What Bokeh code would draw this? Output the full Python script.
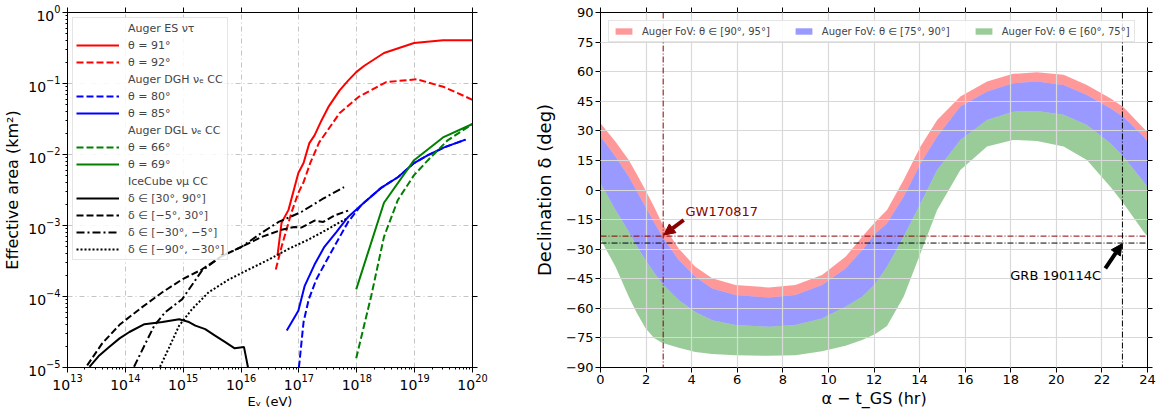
import numpy as np
from bokeh.plotting import figure
from bokeh.layouts import row
from bokeh.models import (Legend, LegendItem, LogAxis, LinearAxis, Span, Arrow,
                          NormalHead, Label, FixedTicker)
from bokeh.embed import file_html
from bokeh.resources import INLINE

FONT = "DejaVu Sans"

# ---------------- Left panel data (log10 E [eV], log10 A [km^2]) ----------------
es91_logE = [16.63, 16.70, 16.82, 16.99, 17.08, 17.18, 17.27, 17.39, 17.51, 17.70, 17.85, 17.99, 18.13, 18.47, 18.99, 19.49, 20.0]
es91_logA = [-3.42, -2.96, -2.78, -2.26, -2.12, -1.84, -1.73, -1.52, -1.33, -1.10, -0.96, -0.84, -0.75, -0.57, -0.43, -0.39, -0.39]
es92_logE = [16.60, 16.70, 16.87, 16.99, 17.08, 17.20, 17.35, 17.53, 17.70, 18.03, 18.51, 19.04, 19.51, 20.0]
es92_logA = [-3.62, -3.30, -2.82, -2.54, -2.39, -2.11, -1.83, -1.62, -1.42, -1.19, -0.98, -0.94, -1.05, -1.23]

dgh80_logE = [17.00, 17.08, 17.17, 17.30, 17.44, 17.65, 17.85, 18.08, 18.42, 18.71, 18.99, 19.23, 19.51, 19.88]
dgh80_logA = [-5.00, -4.36, -4.04, -3.76, -3.55, -3.24, -2.95, -2.71, -2.47, -2.32, -2.12, -2.01, -1.90, -1.79]
dgh85_logE = [16.79, 16.99, 17.10, 17.27, 17.44, 17.65, 17.85, 18.08, 18.42, 18.71, 18.99, 19.23, 19.51, 19.88]
dgh85_logA = [-4.48, -4.20, -3.85, -3.55, -3.30, -3.09, -2.88, -2.71, -2.47, -2.32, -2.12, -2.01, -1.90, -1.79]

dgl66_logE = [17.99, 18.25, 18.47, 18.71, 18.99, 19.23, 19.57, 20.0]
dgl66_logA = [-4.87, -3.99, -3.16, -2.64, -2.29, -2.08, -1.80, -1.57]
dgl69_logE = [17.99, 18.47, 18.99, 19.49, 20.0]
dgl69_logA = [-3.90, -2.68, -2.08, -1.76, -1.57]

ic_north_logE = [13.38, 13.55, 13.72, 13.90, 14.07, 14.33, 14.64, 14.93, 15.10, 15.21, 15.38, 15.55, 15.72, 15.89, 16.05, 16.12]
ic_north_logA = [-4.99, -4.83, -4.71, -4.59, -4.50, -4.39, -4.36, -4.32, -4.36, -4.41, -4.46, -4.55, -4.64, -4.73, -4.71, -5.0]
ic_horiz_logE = [13.34, 13.60, 13.91, 14.29, 14.64, 14.98, 15.32, 15.67, 16.01, 16.36, 16.70, 16.92, 17.04, 17.27, 17.42, 17.61, 17.85]
ic_horiz_logA = [-4.97, -4.66, -4.39, -4.15, -3.94, -3.76, -3.62, -3.43, -3.30, -3.16, -3.06, -3.02, -3.03, -2.93, -2.95, -2.86, -2.79]
ic_south1_logE = [14.15, 14.33, 14.50, 14.69, 14.98, 15.32, 15.67, 16.01, 16.36, 16.65, 17.04, 17.40, 17.78]
ic_south1_logA = [-4.99, -4.69, -4.41, -4.22, -4.04, -3.64, -3.43, -3.30, -3.10, -2.95, -2.81, -2.63, -2.46]
ic_south2_logE = [14.60, 14.75, 14.93, 15.15, 15.44, 15.79, 16.13, 16.48, 16.82, 17.16, 17.39, 17.85]
ic_south2_logA = [-4.99, -4.73, -4.41, -4.18, -3.94, -3.76, -3.62, -3.48, -3.33, -3.20, -3.10, -2.89]

# ---------------- Right panel data ----------------
hours = [0.0, 0.66, 1.24, 1.6, 1.97, 2.35, 2.7, 3.43, 4.16, 4.9, 5.92, 7.38, 8.55, 9.72, 10.75, 11.48,
         12.06, 12.57, 13.3, 14.04, 14.77, 15.79, 16.96, 18.1, 19.15, 20.32, 21.34, 22.37, 22.95, 23.83, 24.0]
dec_theta95 = [33.9, 24.5, 15.2, 7.8, 0.0, -8.5, -16.9, -29.6, -38.9, -44.8, -48.2, -49.4, -48.2, -43.1, -33.9, -23.7,
               -16.1, -10.2, 5.1, 22.0, 35.5, 47.4, 55.0, 58.9, 59.7, 58.4, 53.3, 46.5, 42.0, 31.3, 29.5]
dec_theta90 = [27.1, 16.9, 6.8, -0.7, -8.5, -16.3, -23.5, -35.5, -44.0, -49.9, -53.3, -54.5, -53.3, -48.2, -39.8, -30.5,
               -22.0, -16.9, -3.4, 13.5, 27.1, 42.3, 49.9, 54.1, 55.0, 53.3, 48.2, 41.5, 37.0, 27.1, 24.5]
dec_theta75 = [3.4, -10.2, -21.2, -28.5, -35.5, -41.8, -47.4, -55.8, -61.8, -66.0, -68.5, -69.4, -68.5, -65.1, -59.2, -54.1,
               -47.5, -38.9, -23.7, -6.8, 10.2, 25.4, 35.5, 39.7, 40.1, 38.1, 33.0, 23.7, 16.9, 4.2, 1.5]
dec_theta60 = [-25.0, -38.9, -54.1, -62.5, -70.0, -75.0, -77.5, -80.0, -82.1, -83.2, -83.8, -84.1, -83.8, -81.8, -79.0, -76.1,
               -73.0, -69.0, -54.1, -32.1, -10.2, 10.2, 22.0, 25.4, 24.9, 22.0, 15.2, 1.7, -6.8, -21.2, -23.5]

gw_hour, gw_dec = 2.75, -23.38
grb_hour, grb_dec = 22.9, -26.9

x_ticks_hr = list(range(0, 25, 2))
y_ticks_dec = list(range(-90, 91, 15))


def style_axis(ax, tick_font, label_font, hidden=False):
    ax.axis_line_color = "black"
    ax.major_tick_line_color = "black"
    ax.minor_tick_line_color = "black"
    ax.major_tick_out = 5
    ax.major_tick_in = 0
    ax.minor_tick_out = 2
    ax.minor_tick_in = 0
    ax.major_label_text_font = FONT
    ax.major_label_text_font_size = tick_font
    ax.major_label_text_color = "black"
    ax.axis_label_text_font = FONT
    ax.axis_label_text_font_size = label_font
    ax.axis_label_text_font_style = "normal"
    ax.axis_label_text_color = "black"
    ax.major_label_standoff = 2
    ax.axis_label_standoff = 3
    if hidden:
        ax.major_label_text_alpha = 0
        ax.major_label_standoff = 0
        ax.minor_tick_out = 0


# ================= Left figure =================
p1 = figure(width=525, height=412, x_axis_type="log", y_axis_type="log",
            x_range=(1e13, 1e20), y_range=(1e-5, 1.0),
            output_backend="svg", toolbar_location=None,
            min_border_left=65, min_border_right=53, min_border_top=11, min_border_bottom=43)
p1.outline_line_color = "black"
p1.xaxis.axis_label = "Eᵥ (eV)"
p1.yaxis.axis_label = "Effective area (km²)"
style_axis(p1.xaxis[0], "14px", "13px")
style_axis(p1.yaxis[0], "14px", "16px")
p1.xaxis.major_label_standoff = 1
p1.xaxis.axis_label_standoff = 1
for loc in ("above", "right"):
    ax = LogAxis()
    style_axis(ax, "1px", "1px", hidden=True)
    p1.add_layout(ax, loc)
for g in (p1.xgrid[0], p1.ygrid[0]):
    g.grid_line_color = "#c4c4c4"
    g.grid_line_dash = "5 3 1 3"
    g.grid_line_width = 1


def L(vals):
    return 10 ** np.array(vals, dtype=float)


def hdr():
    return p1.line(x=[1e13, 1e13], y=[1e-5, 1e-5], line_alpha=0)


LW = 2
h1 = hdr()
r91 = p1.line(L(es91_logE), L(es91_logA), line_color="red", line_width=LW)
r92 = p1.line(L(es92_logE), L(es92_logA), line_color="red", line_width=LW, line_dash="7 3")
h2 = hdr()
r80 = p1.line(L(dgh80_logE), L(dgh80_logA), line_color="blue", line_width=LW, line_dash="7 3")
r85 = p1.line(L(dgh85_logE), L(dgh85_logA), line_color="blue", line_width=LW)
h3 = hdr()
r66 = p1.line(L(dgl66_logE), L(dgl66_logA), line_color="green", line_width=LW, line_dash="7 3")
r69 = p1.line(L(dgl69_logE), L(dgl69_logA), line_color="green", line_width=LW)
h4 = hdr()
ra = p1.line(L(ic_north_logE), L(ic_north_logA), line_color="black", line_width=LW)
rb = p1.line(L(ic_horiz_logE), L(ic_horiz_logA), line_color="black", line_width=LW, line_dash="7 3")
rc = p1.line(L(ic_south1_logE), L(ic_south1_logA), line_color="black", line_width=LW, line_dash="8 3 2 3")
rd = p1.line(L(ic_south2_logE), L(ic_south2_logA), line_color="black", line_width=LW, line_dash="2 2")

items1 = [
    LegendItem(label="Auger ES ντ", renderers=[h1]),
    LegendItem(label="θ = 91°", renderers=[r91]),
    LegendItem(label="θ = 92°", renderers=[r92]),
    LegendItem(label="Auger DGH νₑ CC", renderers=[h2]),
    LegendItem(label="θ = 80°", renderers=[r80]),
    LegendItem(label="θ = 85°", renderers=[r85]),
    LegendItem(label="Auger DGL νₑ CC", renderers=[h3]),
    LegendItem(label="θ = 66°", renderers=[r66]),
    LegendItem(label="θ = 69°", renderers=[r69]),
    LegendItem(label="IceCube νμ CC", renderers=[h4]),
    LegendItem(label="δ ∈ [30°, 90°]", renderers=[ra]),
    LegendItem(label="δ ∈ [−5°, 30°]", renderers=[rb]),
    LegendItem(label="δ ∈ [−30°, −5°]", renderers=[rc]),
    LegendItem(label="δ ∈ [−90°, −30°]", renderers=[rd]),
]
leg1 = Legend(items=items1, location="top_left", margin=5, padding=3, spacing=3,
              label_text_font=FONT, label_text_font_size="11px", label_height=14,
              glyph_height=14, glyph_width=43, label_standoff=9,
              border_line_color="#cccccc", border_line_width=1,
              background_fill_color="white", background_fill_alpha=0.85)
p1.add_layout(leg1)

# ================= Right figure =================
p2 = figure(width=639, height=412, x_range=(0, 24), y_range=(-90, 90),
            output_backend="svg", toolbar_location=None,
            min_border_left=75, min_border_right=17, min_border_top=12, min_border_bottom=45)
p2.outline_line_color = "black"
p2.xaxis.axis_label = "α − t_GS (hr)"
p2.yaxis.axis_label = "Declination δ (deg)"
style_axis(p2.xaxis[0], "13px", "16px")
style_axis(p2.yaxis[0], "13px", "18px")
p2.xaxis.axis_label_standoff = 2
p2.yaxis.axis_label_standoff = 8
p2.xaxis.ticker = FixedTicker(ticks=x_ticks_hr)
p2.yaxis.ticker = FixedTicker(ticks=y_ticks_dec)
p2.yaxis.major_label_overrides = {t: str(t).replace("-", "−") for t in y_ticks_dec}
for loc in ("above", "right"):
    ax = LinearAxis(ticker=FixedTicker(ticks=x_ticks_hr if loc == "above" else y_ticks_dec))
    style_axis(ax, "1px", "1px", hidden=True)
    p2.add_layout(ax, loc)
p2.xgrid.ticker = FixedTicker(ticks=x_ticks_hr)
p2.ygrid.ticker = FixedTicker(ticks=y_ticks_dec)
for g in (p2.xgrid[0], p2.ygrid[0]):
    g.grid_line_color = "#d9d9d9"
    g.grid_line_width = 1.2
    g.level = "annotation"

b_red = p2.varea(x=hours, y1=dec_theta90, y2=dec_theta95, fill_color="red", fill_alpha=0.4)
b_blue = p2.varea(x=hours, y1=dec_theta75, y2=dec_theta90, fill_color="blue", fill_alpha=0.4)
b_green = p2.varea(x=hours, y1=dec_theta60, y2=dec_theta75, fill_color="green", fill_alpha=0.4)

DD = "6 2 1 2"
p2.add_layout(Span(location=gw_hour, dimension="height", line_color="#8b0000", line_dash=DD, line_width=1))
p2.add_layout(Span(location=gw_dec, dimension="width", line_color="#8b0000", line_dash=DD, line_width=1))
p2.add_layout(Span(location=grb_hour, dimension="height", line_color="black", line_dash=DD, line_width=1))
p2.add_layout(Span(location=grb_dec, dimension="width", line_color="black", line_dash=DD, line_width=1))

p2.add_layout(Arrow(x_start=3.65, y_start=-15.2, x_end=gw_hour + 0.03, y_end=gw_dec + 0.6,
                    line_color="#8b0000", line_width=4,
                    end=NormalHead(size=11, fill_color="#8b0000", line_color="#8b0000")))
p2.add_layout(Arrow(x_start=22.15, y_start=-39.7, x_end=grb_hour - 0.02, y_end=grb_dec - 0.4,
                    line_color="black", line_width=4,
                    end=NormalHead(size=11, fill_color="black", line_color="black")))
p2.add_layout(Label(x=3.73, y=-10.7, text="GW170817", text_color="#8b0000", text_font=FONT,
                    text_font_size="13px", text_baseline="middle"))
p2.add_layout(Label(x=17.98, y=-43.6, text="GRB 190114C", text_color="black", text_font=FONT,
                    text_font_size="13px", text_baseline="middle"))

items2 = [
    LegendItem(label="Auger FoV: θ ∈ [90°, 95°]", renderers=[b_red]),
    LegendItem(label="Auger FoV: θ ∈ [75°, 90°]", renderers=[b_blue]),
    LegendItem(label="Auger FoV: θ ∈ [60°, 75°]", renderers=[b_green]),
]
leg2 = Legend(items=items2, location="top_left", orientation="horizontal", margin=8,
              padding=4, spacing=23, label_text_font=FONT, label_text_font_size="10px",
              label_height=12, glyph_height=8, glyph_width=21, label_standoff=8,
              border_line_color="#cccccc", border_line_width=1,
              background_fill_color="white", background_fill_alpha=0.85)
p2.add_layout(leg2)

layout = row(p1, p2)
open("out.html", "w").write(file_html(layout, INLINE))
